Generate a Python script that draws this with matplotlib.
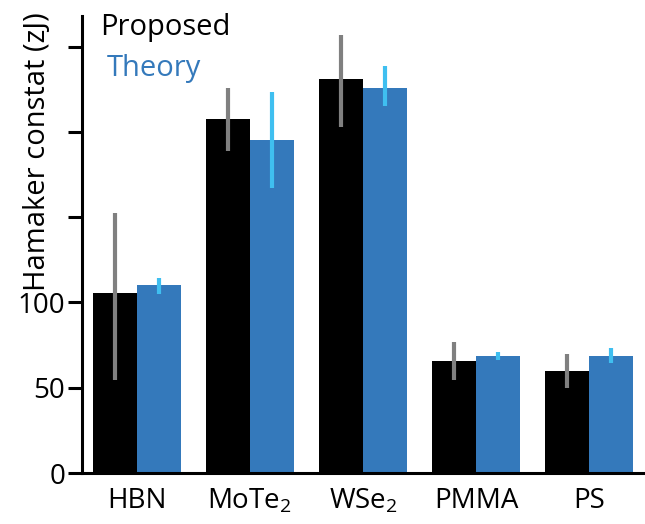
import numpy as np
import matplotlib.pyplot as plt

plt.rcParams['font.family'] = ['Open Sans', 'DejaVu Sans']
plt.rcParams['mathtext.fontset'] = 'custom'
plt.rcParams['mathtext.rm'] = 'Open Sans'
plt.rcParams['mathtext.it'] = 'Open Sans'

materials = ['HBN', 'MoTe$_2$', 'WSe$_2$', 'PMMA', 'PS']

# Proposed values and error bar ends
proposed = [105.4, 207.3, 230.9, 65.7, 59.7]
proposed_lo = [54.8, 189.0, 203.0, 54.8, 49.6]
proposed_hi = [152.4, 226.0, 257.0, 77.0, 69.6]

# Theory values and error bar ends
theory = [110.5, 195.2, 225.6, 68.6, 68.5]
theory_lo = [104.8, 167.0, 215.0, 66.1, 64.3]
theory_hi = [114.6, 223.4, 238.8, 70.8, 73.2]

yticks = [0, 50, 100, 150, 200, 250]
ytick_labels = ['0', '50', '100', '', '', '']

fig = plt.figure(figsize=(6.45, 5.24), dpi=100)
ax = fig.add_axes([0.127, 0.0973, 0.873, 0.8722])

x = np.arange(len(materials))
w = 0.39
blue = '#3479bb'

ax.bar(x - w / 2, proposed, width=w, color='black')
ax.bar(x + w / 2, theory, width=w, color=blue)

p = np.array(proposed)
t = np.array(theory)
ax.errorbar(x - w / 2, p, yerr=[p - np.array(proposed_lo), np.array(proposed_hi) - p],
            fmt='none', ecolor='#808080', elinewidth=3, capsize=0)
ax.errorbar(x + w / 2, t, yerr=[t - np.array(theory_lo), np.array(theory_hi) - t],
            fmt='none', ecolor='#3fbff0', elinewidth=3, capsize=0)

ax.set_xlim(-0.487, 4.496)
ax.set_ylim(0, 268)
ax.set_yticks(yticks)
ax.set_yticklabels(ytick_labels, fontsize=20)
ax.set_xticks(x)
ax.set_xticklabels(materials, fontsize=20)

ax.spines['top'].set_visible(False)
ax.spines['right'].set_visible(False)
ax.spines['left'].set_linewidth(2.2)
ax.spines['bottom'].set_linewidth(2.2)
ax.tick_params(axis='y', length=10, width=2.2, pad=2)
ax.tick_params(axis='x', length=0, pad=10)

ax.set_ylabel('Hamaker constat (zJ)', fontsize=21)
ax.yaxis.set_label_coords(-0.053, 0.703)

ax.text(0.032, 0.974, 'Proposed', transform=ax.transAxes, fontsize=21,
        color='black', va='center')
ax.text(0.044, 0.886, 'Theory', transform=ax.transAxes, fontsize=21,
        color=blue, va='center')

fig.savefig('out.png', dpi=100)
